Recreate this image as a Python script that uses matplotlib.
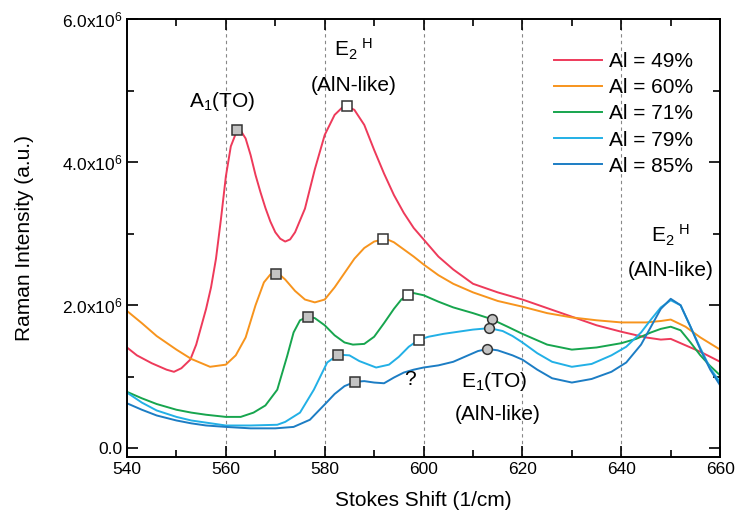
import numpy as np
import matplotlib
matplotlib.use('Agg')
import matplotlib.pyplot as plt
from matplotlib.ticker import MultipleLocator, FuncFormatter

plt.rcParams['font.family'] = ['Liberation Sans', 'DejaVu Sans']
plt.rcParams['mathtext.fontset'] = 'custom'
plt.rcParams['mathtext.rm'] = 'Liberation Sans'
plt.rcParams['mathtext.it'] = 'Liberation Sans:italic'

# Raman spectra (intensity in units of 1e6)
x49 = [540, 542, 545, 548, 549.5, 551, 552.8, 554, 555, 556, 557, 558, 559, 560, 561, 562.3, 563, 564, 565, 566,
       567, 568, 569, 570, 571, 572, 573, 574, 576, 578, 580, 582, 583.5, 584.5, 586, 588, 590, 592, 594, 596,
       598, 600, 603, 606, 610, 615, 620, 625, 630, 635, 640, 645, 648, 650, 653, 656, 660]
y49 = [1.41, 1.30, 1.19, 1.10, 1.07, 1.12, 1.24, 1.45, 1.70, 1.95, 2.25, 2.65, 3.20, 3.80, 4.22, 4.45, 4.44, 4.33, 4.10, 3.82,
       3.58, 3.36, 3.17, 3.02, 2.93, 2.89, 2.92, 3.02, 3.35, 3.90, 4.38, 4.66, 4.76, 4.78, 4.73, 4.52, 4.17, 3.84, 3.54, 3.29,
       3.08, 2.92, 2.68, 2.50, 2.30, 2.18, 2.08, 1.96, 1.84, 1.72, 1.63, 1.55, 1.52, 1.53, 1.44, 1.35, 1.21]

x60 = [540, 543, 546, 550, 553, 556.8, 560, 562, 564, 566, 567.7, 569, 570.2, 571, 572, 574, 576, 578, 580, 582,
       584, 586, 588, 590, 591.8, 593, 594, 596, 598, 600, 603, 606, 610, 615, 620, 625, 630, 635, 640, 645, 648,
       650, 653, 656, 660]
y60 = [1.92, 1.75, 1.57, 1.38, 1.25, 1.14, 1.17, 1.30, 1.55, 2.00, 2.32, 2.43, 2.44, 2.42, 2.36, 2.20, 2.08, 2.04, 2.08, 2.25,
       2.45, 2.65, 2.80, 2.89, 2.92, 2.91, 2.88, 2.78, 2.68, 2.57, 2.42, 2.30, 2.18, 2.06, 1.98, 1.89, 1.83, 1.79, 1.76, 1.76, 1.78,
       1.80, 1.70, 1.55, 1.38]

x71 = [540, 543, 546, 550, 553, 556, 560, 563, 565.6, 568, 570.4, 572.4, 573.7, 575, 576.6, 578, 580, 582, 584, 585.7,
       588, 590, 592, 594, 595.5, 596.9, 598, 600, 603, 606, 610, 613.6, 617, 620, 625, 630, 635, 640, 643, 646, 648,
       650, 652, 654, 656, 658, 660]
y71 = [0.79, 0.70, 0.62, 0.54, 0.50, 0.47, 0.44, 0.44, 0.50, 0.60, 0.82, 1.29, 1.62, 1.79, 1.84, 1.82, 1.72, 1.58, 1.48, 1.45,
       1.46, 1.56, 1.75, 1.95, 2.08, 2.15, 2.17, 2.14, 2.05, 1.97, 1.89, 1.81, 1.70, 1.60, 1.45, 1.38, 1.41, 1.47, 1.53, 1.62, 1.67,
       1.70, 1.65, 1.48, 1.30, 1.15, 1.02]

x79 = [540, 543, 546, 550, 553, 556, 560, 565, 570.4, 572, 575, 577.8, 580.5, 582.7, 585, 587, 590.4, 593, 595, 597,
       599.1, 601, 604, 607, 610, 613.3, 616, 618, 620, 623, 626, 630, 634, 638, 641, 644, 646, 648, 650, 652, 654,
       656, 658, 660]
y79 = [0.78, 0.64, 0.53, 0.44, 0.39, 0.36, 0.32, 0.32, 0.33, 0.37, 0.50, 0.82, 1.20, 1.31, 1.30, 1.22, 1.13, 1.17, 1.28, 1.42,
       1.52, 1.56, 1.60, 1.63, 1.66, 1.68, 1.64, 1.57, 1.48, 1.33, 1.21, 1.14, 1.18, 1.30, 1.42, 1.62, 1.80, 1.97, 2.07, 2.00, 1.70,
       1.40, 1.12, 0.92]

x85 = [540, 543, 546, 550, 553, 556, 560, 565, 570, 573.7, 577, 580.5, 582, 584, 586.1, 588, 590, 592, 594, 596,
       598, 600, 603, 606, 609, 611, 612.9, 615, 618, 620, 623, 626, 630, 634, 638, 641, 644, 646, 648, 650, 652,
       654, 656, 658, 660]
y85 = [0.63, 0.54, 0.46, 0.39, 0.35, 0.32, 0.30, 0.28, 0.28, 0.30, 0.40, 0.65, 0.76, 0.87, 0.93, 0.94, 0.92, 0.91, 0.99, 1.06,
       1.10, 1.13, 1.16, 1.21, 1.30, 1.36, 1.39, 1.37, 1.30, 1.24, 1.10, 0.98, 0.92, 0.97, 1.07, 1.20, 1.45, 1.70, 1.95, 2.09, 2.00,
       1.70, 1.38, 1.10, 0.88]

labels = ['Al = 49%', 'Al = 60%', 'Al = 71%', 'Al = 79%', 'Al = 85%']
colors = ['#ee3a5a', '#f7941d', '#17a54e', '#22b0e6', '#1c7dc4']

# peak markers
a1_x = [562.3, 570.2, 576.6, 582.7, 586.1]
a1_y = [4.45, 2.44, 1.84, 1.31, 0.93]
e2_x = [584.5, 591.8, 596.9, 599.1]
e2_y = [4.78, 2.92, 2.15, 1.52]
e1_x = [613.9, 613.3, 612.9]
e1_y = [1.81, 1.68, 1.39]

fig = plt.figure(figsize=(7.35, 5.2), dpi=100)
ax = fig.add_axes([0.1728, 0.1212, 0.807, 0.8423])

for xv in [560, 580, 600, 620, 640]:
    ax.axvline(xv, color='#888888', linestyle=(0, (3, 3)), linewidth=0.8, zorder=1)

series = [(x49, y49), (x60, y60), (x71, y71), (x79, y79), (x85, y85)]
for (xs, ys), lab, c in zip(series, labels, colors):
    ax.plot(xs, np.array(ys) * 1e6, color=c, linewidth=1.4, label=lab, zorder=2)

ax.plot(a1_x, np.array(a1_y) * 1e6, linestyle='none', marker='s', markersize=7,
        markerfacecolor='#c4c4c4', markeredgecolor='#333333', markeredgewidth=1.1, zorder=3)
ax.plot(e2_x, np.array(e2_y) * 1e6, linestyle='none', marker='s', markersize=7,
        markerfacecolor='white', markeredgecolor='#333333', markeredgewidth=1.1, zorder=3)
ax.plot(e1_x, np.array(e1_y) * 1e6, linestyle='none', marker='o', markersize=7,
        markerfacecolor='#c4c4c4', markeredgecolor='#333333', markeredgewidth=1.1, zorder=3)

ax.set_xlim(540, 660)
ax.set_ylim(-0.12e6, 6.0e6)
ax.xaxis.set_major_locator(MultipleLocator(20))
ax.xaxis.set_minor_locator(MultipleLocator(10))
ax.yaxis.set_major_locator(MultipleLocator(2e6))
ax.yaxis.set_minor_locator(MultipleLocator(1e6))


def yfmt(v, pos):
    if abs(v) < 1:
        return '0.0'
    return r'%.1fx10$^{6}$' % (v / 1e6)


ax.yaxis.set_major_formatter(FuncFormatter(yfmt))
ax.tick_params(which='both', direction='in', top=True, right=True, width=1.2, labelsize=12.5)
ax.tick_params(which='major', length=8)
ax.tick_params(which='minor', length=5)
for sp in ax.spines.values():
    sp.set_linewidth(1.4)

ax.set_xlabel('Stokes Shift (1/cm)', fontsize=15, labelpad=10)
ax.set_ylabel('Raman Intensity (a.u.)', fontsize=15, labelpad=20)

tk = dict(fontsize=15, ha='center', va='center')
ax.text(559.2, 4.84e6, r'A$_1$(TO)', **tk)
ax.text(585.8, 5.58e6, r'E$_2$$^{\ \mathrm{H}}$', **tk)
ax.text(585.8, 5.07e6, '(AlN-like)', **tk)
ax.text(649.9, 2.98e6, r'E$_2$$^{\ \mathrm{H}}$', **tk)
ax.text(649.9, 2.48e6, '(AlN-like)', **tk)
ax.text(597.3, 0.96e6, '?', **tk)
ax.text(614.3, 0.93e6, r'E$_1$(TO)', **tk)
ax.text(614.9, 0.47e6, '(AlN-like)', **tk)

ax.legend(loc='upper left', bbox_to_anchor=(0.705, 0.943), frameon=False, fontsize=15,
          handlelength=2.35, handletextpad=0.3, labelspacing=0.34, borderaxespad=0.0)

fig.savefig('out.png', dpi=100)
